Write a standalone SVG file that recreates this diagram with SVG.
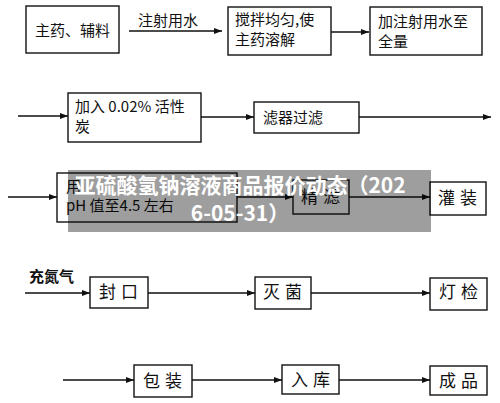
<svg xmlns="http://www.w3.org/2000/svg" width="500" height="403" viewBox="0 0 500 403">
<defs>
<marker id="ah" markerWidth="8" markerHeight="6" refX="8" refY="3" orient="auto" markerUnits="userSpaceOnUse">
<path d="M0,0 L8,3 L0,6 Z" fill="#111"/>
</marker>
<style>
.box{fill:#fff;stroke:#111;stroke-width:1.4}
.ln{fill:none;stroke:#111;stroke-width:1.3;marker-end:url(#ah)}
.t{font-family:"Noto Sans CJK SC","Liberation Sans",sans-serif;fill:#111;font-size:15px}
.s{font-family:"Noto Sans CJK SC","Liberation Sans",sans-serif;fill:#111;font-size:17px;letter-spacing:5px;text-anchor:middle}
.w{font-family:"Noto Sans CJK SC","Noto Sans",sans-serif;fill:#fff;font-size:21px;font-weight:bold;text-anchor:middle}
</style>
</defs>
<rect width="500" height="403" fill="#fff"/>
<g id="connectors">
<line class="ln" x1="129" y1="31" x2="222" y2="31"/>
<line class="ln" x1="331" y1="32" x2="369" y2="32"/>
<line class="ln" x1="18" y1="116" x2="68" y2="116"/>
<line class="ln" x1="201" y1="117" x2="254" y2="117"/>
<line class="ln" x1="359" y1="117" x2="491" y2="117"/>
<line class="ln" x1="8" y1="197" x2="57" y2="197"/>
<line class="ln" x1="237" y1="197" x2="293" y2="197"/>
<line class="ln" x1="349" y1="197" x2="430" y2="197"/>
<line class="ln" x1="25" y1="293" x2="90" y2="293"/>
<line class="ln" x1="148" y1="293" x2="255" y2="293"/>
<line class="ln" x1="311" y1="293" x2="430" y2="293"/>
<line class="ln" x1="63" y1="380" x2="134" y2="380"/>
<line class="ln" x1="192" y1="380" x2="282" y2="380"/>
<line class="ln" x1="339" y1="380" x2="430" y2="380"/>
<text class="t" x="138" y="26">注射用水</text>
<text class="t" x="29" y="282" font-size="13" font-weight="bold">充氮气</text>
</g>
<g id="n1"><rect class="box" x="26" y="6" width="93" height="47"/><text class="t" x="35" y="36" font-size="16">主药、辅料</text></g>
<g id="n2"><rect class="box" x="228" y="7" width="103" height="48"/><text class="t" x="235" y="25">搅拌均匀,使</text><text class="t" x="235" y="45">主药溶解</text></g>
<g id="n3"><rect class="box" x="370" y="7" width="112" height="48"/><text class="t" x="378" y="27" font-size="16">加注射用水至</text><text class="t" x="378" y="47" font-size="16">全量</text></g>
<g id="n4"><rect class="box" x="68" y="93" width="133" height="49"/><text class="t" x="75" y="112" font-size="16">加入 0.02% 活性</text><text class="t" x="75" y="132" font-size="16">炭</text></g>
<g id="n5"><rect class="box" x="254" y="102" width="105" height="31"/><text class="t" x="263" y="123" font-size="16">滤器过滤</text></g>
<g id="n6"><rect class="box" x="57" y="173" width="180" height="49"/><text class="t" x="66" y="192">用</text><text class="t" x="66" y="211">pH 值至4.5 左右</text></g>
<g id="n7"><rect class="box" x="293" y="180" width="56" height="34"/><text class="s" x="323" y="203">精滤</text></g>
<g id="n8"><rect class="box" x="430" y="182" width="56" height="33"/><text class="s" x="460" y="204">灌装</text></g>
<g id="n9"><rect class="box" x="90" y="277" width="58" height="31"/><text class="s" x="121" y="298">封口</text></g>
<g id="n10"><rect class="box" x="255" y="277" width="56" height="32"/><text class="s" x="285" y="298">灭菌</text></g>
<g id="n11"><rect class="box" x="430" y="278" width="57" height="32"/><text class="s" x="461" y="298">灯检</text></g>
<g id="n12"><rect class="box" x="134" y="365" width="58" height="32"/><text class="s" x="165" y="387">包装</text></g>
<g id="n13"><rect class="box" x="282" y="365" width="57" height="29"/><text class="s" x="313" y="386">入库</text></g>
<g id="n14"><rect class="box" x="430" y="366" width="57" height="29"/><text class="s" x="461" y="387">成品</text></g>
<g id="banner">
<rect x="68" y="170" width="363" height="62" fill="#000" fill-opacity="0.38"/>
<text class="w" x="240" y="193">亚硫酸氢钠溶液商品报价动态（202</text>
<text class="w" x="240" y="221">6-05-31）</text>
</g>
</svg>
